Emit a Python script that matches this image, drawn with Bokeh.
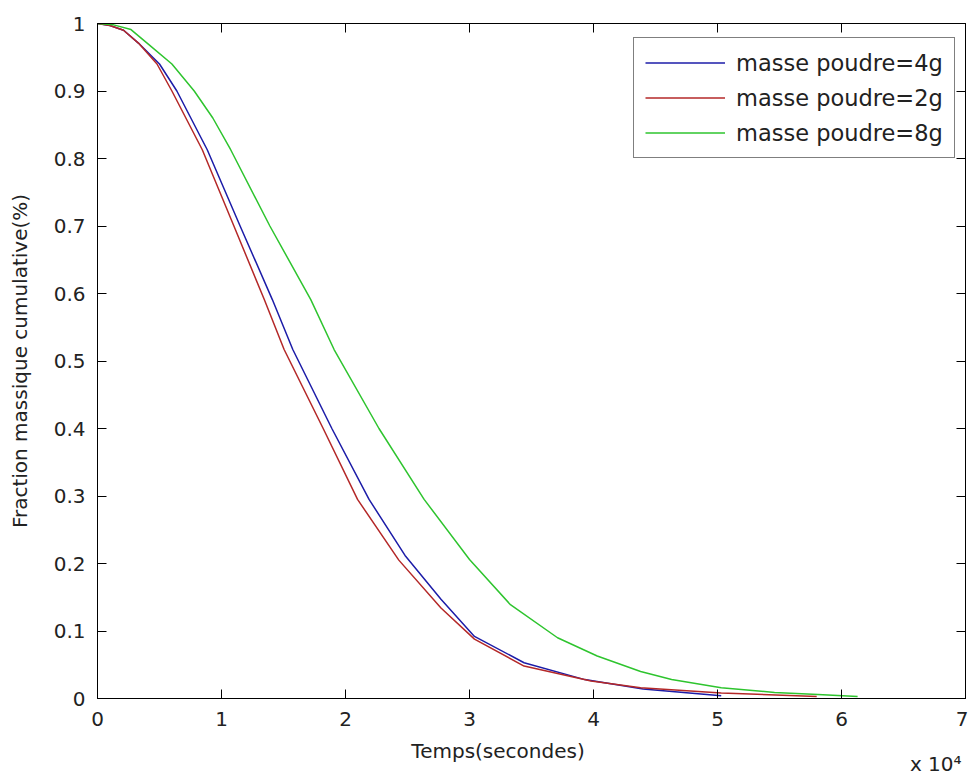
from bokeh.plotting import figure
from bokeh.models import Range1d, LinearAxis, FixedTicker, Legend, LegendItem
from bokeh.embed import file_html
from bokeh.resources import INLINE

# ---- data (time in units of 10^4 seconds) ----
t_4g = [0, 0.10, 0.21, 0.33, 0.50, 0.64, 0.885, 1.15, 1.41, 1.575, 1.89, 2.19, 2.48, 2.77, 3.04, 3.44, 3.93, 4.40, 5.03]
f_4g = [1.0, 0.997, 0.99, 0.971, 0.94, 0.90, 0.813, 0.70, 0.591, 0.517, 0.40, 0.295, 0.212, 0.147, 0.092, 0.053, 0.028, 0.014, 0.004]

t_2g = [0, 0.10, 0.21, 0.33, 0.48, 0.60, 0.845, 1.10, 1.345, 1.505, 1.82, 2.097, 2.43, 2.77, 3.04, 3.44, 3.98, 4.38, 5.03, 5.80]
f_2g = [1.0, 0.997, 0.99, 0.971, 0.94, 0.90, 0.813, 0.70, 0.591, 0.517, 0.40, 0.295, 0.205, 0.134, 0.088, 0.048, 0.026, 0.016, 0.008, 0.003]

t_8g = [0, 0.13, 0.27, 0.40, 0.60, 0.78, 0.93, 1.074, 1.39, 1.72, 1.908, 2.27, 2.634, 3.0, 3.33, 3.71, 4.03, 4.38, 4.63, 5.03, 5.46, 5.81, 6.13]
f_8g = [1.0, 0.998, 0.991, 0.971, 0.94, 0.90, 0.86, 0.813, 0.70, 0.591, 0.517, 0.40, 0.295, 0.206, 0.139, 0.090, 0.063, 0.040, 0.028, 0.016, 0.009, 0.006, 0.003]

series_labels = ["masse poudre=4g", "masse poudre=2g", "masse poudre=8g"]

x_ticks = [0, 1, 2, 3, 4, 5, 6, 7]
x_tick_labels = ["0", "1", "2", "3", "4", "5", "6", "7"]
y_ticks = [0, 0.1, 0.2, 0.3, 0.4, 0.5, 0.6, 0.7, 0.8, 0.9, 1.0]
y_tick_labels = ["0", "0.1", "0.2", "0.3", "0.4", "0.5", "0.6", "0.7", "0.8", "0.9", "1"]

x_label = "Temps(secondes)"
y_label = "Fraction massique cumulative(%)"
x_multiplier = "x 10\u2074"

# horizontal anchor positions (axis units) of the x title and the multiplier
XLABEL_POS = 3.23
MULT_POS = 6.76

FONT = "DejaVu Sans"
TXT = "#222222"

p = figure(frame_width=868, frame_height=675,
           x_range=Range1d(0, 7), y_range=Range1d(0, 1),
           output_backend="svg", toolbar_location=None,
           min_border_left=97, min_border_right=3,
           min_border_top=23, min_border_bottom=60,
           background_fill_color="white", border_fill_color="white")

p.xgrid.visible = False
p.ygrid.visible = False
p.outline_line_color = "black"
p.outline_line_width = 1

def style_axis(ax, ticks, labels, show_labels=True):
    ax.ticker = FixedTicker(ticks=ticks)
    ax.major_tick_in = 9
    ax.major_tick_out = 0
    ax.minor_tick_in = 0
    ax.minor_tick_out = 0
    ax.axis_line_color = "black"
    ax.major_tick_line_color = "black"
    ax.major_label_text_font = FONT
    if show_labels:
        ax.major_label_overrides = {t: l for t, l in zip(ticks, labels)}
        ax.major_label_text_color = TXT
        ax.major_label_text_font_size = "20px"
    else:
        ax.major_label_text_color = None
        ax.major_label_text_font_size = "0px"
        ax.major_label_standoff = 0

xa = p.xaxis[0]
style_axis(xa, x_ticks, x_tick_labels)
xa.major_label_standoff = 13

ya = p.yaxis[0]
style_axis(ya, y_ticks, y_tick_labels)
ya.major_label_standoff = 12
ya.axis_label = y_label
ya.axis_label_text_font = FONT
ya.axis_label_text_font_size = "20px"
ya.axis_label_text_font_style = "normal"
ya.axis_label_text_color = TXT
ya.axis_label_standoff = 19

top_ax = LinearAxis()
style_axis(top_ax, x_ticks, x_tick_labels, show_labels=False)
p.add_layout(top_ax, "above")
right_ax = LinearAxis()
style_axis(right_ax, y_ticks, y_tick_labels, show_labels=False)
p.add_layout(right_ax, "right")

# text-only axes (no line / ticks) carrying the x title and the multiplier
def text_axis(pos, text, standoff):
    ax = LinearAxis(ticker=FixedTicker(ticks=[pos]),
                    major_label_overrides={pos: text},
                    axis_line_color=None, major_tick_line_color=None,
                    minor_tick_line_color=None,
                    major_tick_in=0, major_tick_out=0,
                    major_label_standoff=standoff,
                    major_label_text_font=FONT,
                    major_label_text_font_size="20px",
                    major_label_text_color=TXT)
    p.add_layout(ax, "below")
    return ax

text_axis(XLABEL_POS, x_label, 10)
text_axis(MULT_POS, x_multiplier, -14)

r4 = p.line(t_4g, f_4g, line_color="#1c1ca8", line_width=1.5)
r2 = p.line(t_2g, f_2g, line_color="#b42828", line_width=1.5)
r8 = p.line(t_8g, f_8g, line_color="#2ec42e", line_width=1.5)

legend = Legend(items=[LegendItem(label=series_labels[0], renderers=[r4]),
                       LegendItem(label=series_labels[1], renderers=[r2]),
                       LegendItem(label=series_labels[2], renderers=[r8])],
                location=(536, 540), padding=11, spacing=8,
                glyph_width=80, glyph_height=27, label_height=27,
                label_standoff=11,
                label_text_font=FONT, label_text_font_size="22.5px",
                label_text_color=TXT,
                border_line_color="black", border_line_width=1,
                background_fill_color="white", background_fill_alpha=1)
p.add_layout(legend)

open("out.html", "w").write(file_html(p, INLINE))
